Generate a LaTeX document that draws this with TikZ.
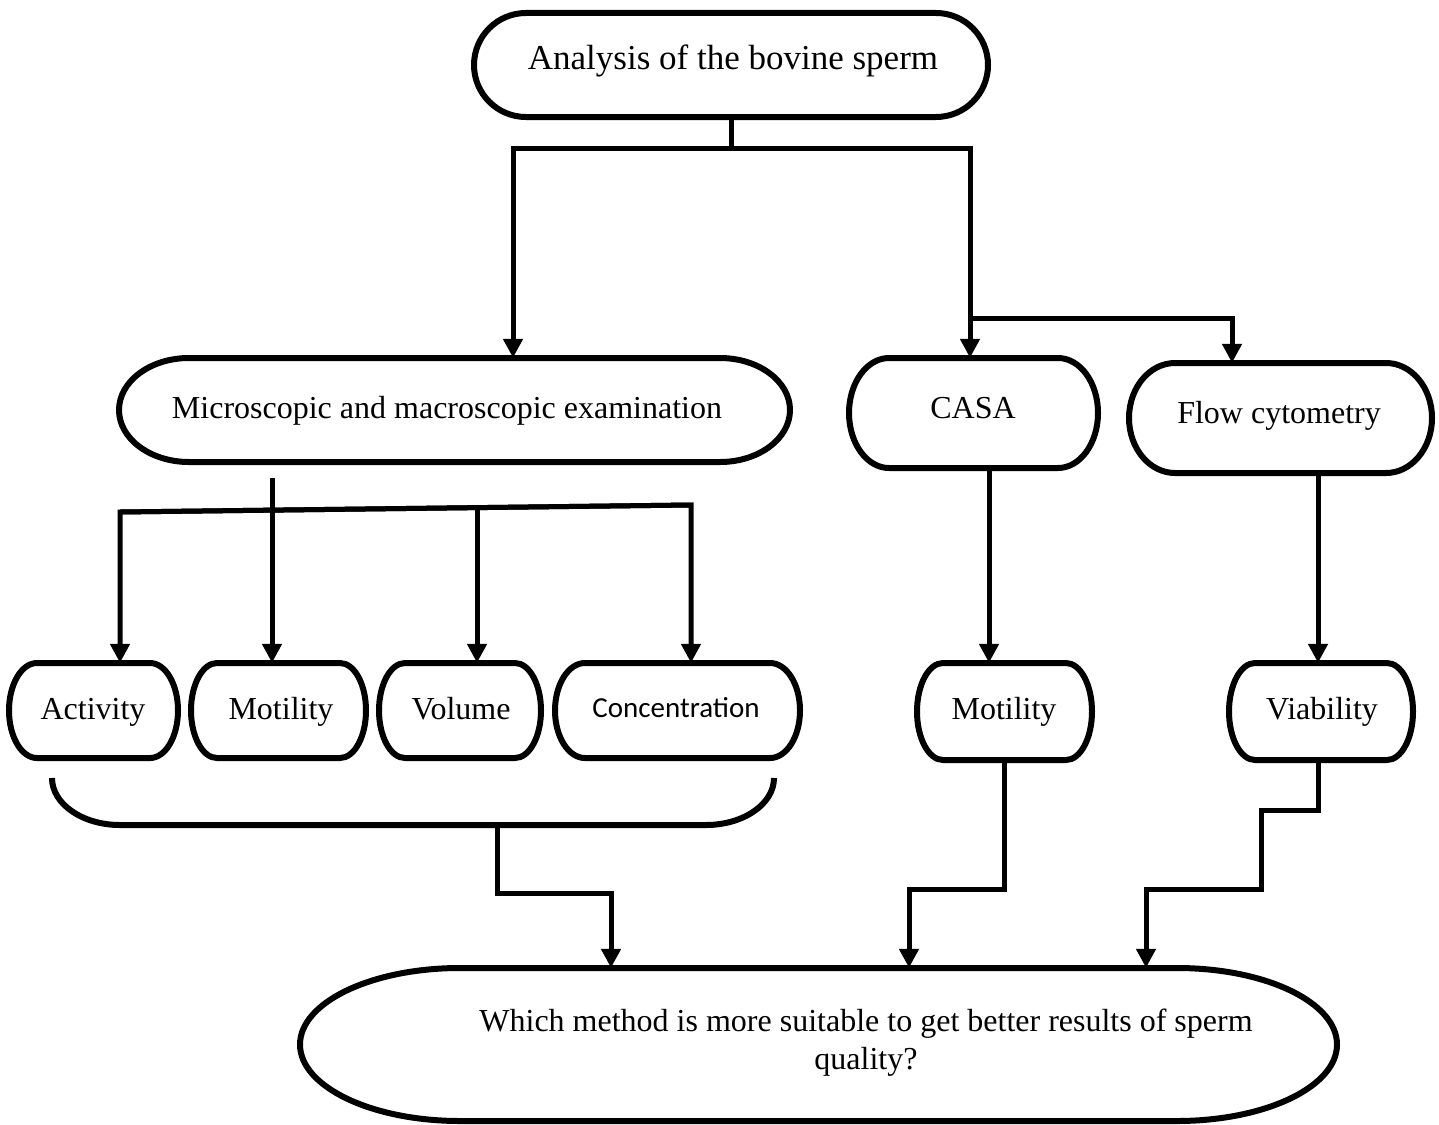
\documentclass[tikz,border=0pt]{standalone}
\usepackage{fontspec}
\setmainfont{Liberation Serif}
\newfontfamily\calibfont{Carlito}
\usetikzlibrary{arrows.meta}
% name, x1, y1, x2, y2, rx  (pixel coordinates, y downward)
\newcommand{\stadbox}[6]{%
  \node[inner sep=0, minimum width={#4-#2}, minimum height={#5-#3}] (#1) at ({(#2+#4)/2},{-(#3+#5)/2}) {};
  \draw[bd] ({#2+#6},{-#3}) -- ({#4-#6},{-#3})
    arc[start angle=90,end angle=-90,x radius=#6,y radius={(#5-#3)/2}]
    -- ({#2+#6},{-#5})
    arc[start angle=270,end angle=90,x radius=#6,y radius={(#5-#3)/2}] -- cycle;}
\tikzset{
  bd/.style={line width=6pt},
  ln/.style={line width=5pt},
  arr/.style={ln, -{Triangle[length=19pt,width=19pt]}},
  lbl/.style={font=\fontsize{32}{38}\selectfont, inner sep=0, anchor=base}
}
\begin{document}
\begin{tikzpicture}[x=1pt,y=1pt]
\useasboundingbox (0,0) rectangle (1439,-1124);
\fill[white] (0,0) rectangle (1439,-1124);

% boxes
\stadbox{top}{474}{13}{988}{117}{52}
\stadbox{micro}{119}{358}{790}{462}{70}
\stadbox{casa}{849}{358}{1098}{468}{40}
\stadbox{flow}{1129}{363}{1432}{473}{46}
\stadbox{act}{9}{663}{178}{758}{28}
\stadbox{mot}{191}{663}{366}{758}{26}
\stadbox{vol}{379}{663}{541}{758}{26}
\stadbox{conc}{555}{663}{800}{758}{30}
\stadbox{motb}{917}{663}{1092}{760}{26}
\stadbox{via}{1229}{663}{1413}{760}{26}
\stadbox{res}{300}{968}{1337}{1121}{160}

% labels
\node[lbl, font=\fontsize{35}{42}\selectfont] (top-t) at (733,-70) {Analysis of the bovine sperm};
\node[lbl] (micro-t) at (447,-418) {Microscopic and macroscopic examination};
\node[lbl] (casa-t) at (973,-418) {CASA};
\node[lbl] (flow-t) at (1279,-423) {Flow cytometry};
\node[lbl] (act-t) at (93,-719) {Activity};
\node[lbl] (mot-t) at (281,-719) {Motility};
\node[lbl] (vol-t) at (461,-719) {Volume};
\node[lbl, font=\calibfont\fontsize{29}{35}\selectfont] (conc-t) at (676,-717) {Concentration};
\node[lbl] (motb-t) at (1004,-719) {Motility};
\node[lbl] (via-t) at (1322,-719) {Viability};
\node[lbl, anchor=center, align=center] (res-t) at (866,-1043) {Which method is more suitable to get better results of sperm\\quality?};

% top split
\coordinate (s1) at (731,-148);
\draw[ln] (top.south) -- (s1);
\draw[arr] (s1) -| ([xshift=58.5]micro.north);
\draw[arr] (s1) -| ([xshift=-3.5]casa.north);
\draw[arr] ([xshift=-3.5,yshift=39]casa.north) -| ([xshift=-48.5]flow.north);

% micro to row
\draw[arr] ([xshift=-182.5,yshift=-16]micro.south) -- ([xshift=-6.5]mot.north);
\coordinate (hl) at (120,-512);
\coordinate (hr) at (691,-505);
\coordinate (hv) at (477,-508);
\draw[arr] (hr) -- (hl) -- (hl |- act.north);
\draw[arr] (hl) -- (hr) -- (hr |- conc.north);
\draw[arr] (hv) -- (hv |- vol.north);

% CASA / flow down
\draw[arr] ([xshift=15.5]casa.south) -- ([xshift=-15.5]motb.north);
\draw[arr] ([xshift=37.5]flow.south) -- ([xshift=-3]via.north);

% bracket
\draw[bd] (52,-778) arc[start angle=180,end angle=270,x radius=68,y radius=47]
  -- (706,-825) arc[start angle=270,end angle=360,x radius=68,y radius=47];
\coordinate (brk) at (497,-825);

% to result
\draw[arr] (brk) -- ++(0,-68) -| ([xshift=-207.5]res.north);
\draw[arr] (motb.south) -- ++(0,-129) -| ([xshift=90.5]res.north);
\draw[arr] ([xshift=-3]via.south) -- ++(0,-50) -- ++(-57,0) -- ++(0,-79) -| ([xshift=327.5]res.north);
\end{tikzpicture}
\end{document}
